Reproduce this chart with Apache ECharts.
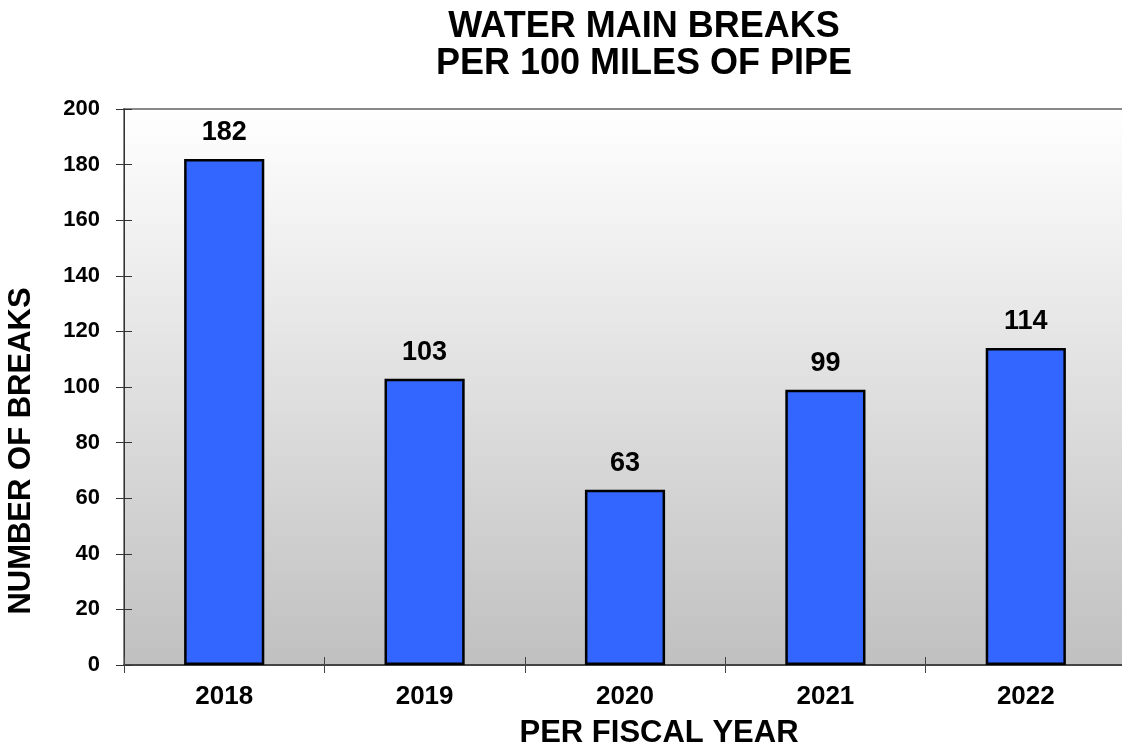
<!DOCTYPE html>
<html>
<head>
<meta charset="utf-8">
<script src="https://cdn.jsdelivr.net/npm/echarts@6/dist/echarts.min.js"></script>
<style>
  html, body { margin: 0; padding: 0; background: #ffffff; }
  #chart { width: 1122px; height: 748px; }
</style>
</head>
<body>
<div id="chart"></div>
<script>
// fiscal years and breaks per 100 miles
var years = ['2018', '2019', '2020', '2021', '2022'];
var breaks = [182, 103, 63, 99, 114];
var yTicks = { min: 0, max: 200, interval: 20 };

var font = 'Arial, "Liberation Sans", sans-serif';

var chart = echarts.init(document.getElementById('chart'));

var option = {
  backgroundColor: '#ffffff',
  animation: false,
  title: {
    text: 'WATER MAIN BREAKS\nPER 100 MILES OF PIPE',
    left: 639,
    top: 4,
    textAlign: 'center',
    textStyle: {
      fontFamily: font,
      fontWeight: 'bold',
      fontSize: 36,
      lineHeight: 37,
      color: '#000'
    }
  },
  grid: {
    left: 124,
    top: 109,
    width: 1002,
    bottom: 83,
    outerBoundsMode: 'none',
    show: true,
    borderColor: '#888888',
    borderWidth: 2,
    backgroundColor: {
      type: 'linear', x: 0, y: 0, x2: 0, y2: 1,
      colorStops: [
        { offset: 0, color: '#ffffff' },
        { offset: 1, color: '#c0c0c0' }
      ]
    }
  },
  xAxis: [{
    type: 'category',
    data: years,
    axisLine: { lineStyle: { color: '#444', width: 2 } },
    axisTick: { show: true, length: 8, lineStyle: { color: '#444', width: 1 } },
    axisLabel: {
      margin: 19,
      fontFamily: font,
      fontWeight: 'bold',
      fontSize: 26,
      color: '#000'
    }
  }, {
    // second copy only to draw the inner half of the crossing ticks
    type: 'category',
    data: years,
    position: 'bottom',
    axisLine: { show: false },
    axisTick: { show: true, inside: true, length: 8, lineStyle: { color: '#444', width: 1 } },
    axisLabel: { show: false }
  }],
  yAxis: [{
    type: 'value',
    min: yTicks.min,
    max: yTicks.max,
    interval: yTicks.interval,
    splitLine: { show: false },
    axisLine: { show: true, lineStyle: { color: '#333', width: 1 } },
    axisTick: { show: true, length: 8, lineStyle: { color: '#333', width: 1 } },
    axisLabel: {
      margin: 24,
      fontFamily: font,
      fontWeight: 'bold',
      fontSize: 22,
      color: '#000'
    }
  }, {
    type: 'value',
    position: 'left',
    min: yTicks.min,
    max: yTicks.max,
    interval: yTicks.interval,
    splitLine: { show: false },
    axisLine: { show: false },
    axisTick: { show: true, inside: true, length: 8, lineStyle: { color: '#333', width: 1 } },
    axisLabel: { show: false }
  }],
  graphic: [{
    type: 'text',
    x: 21,
    y: 451,
    rotation: Math.PI / 2,
    style: {
      text: 'NUMBER OF BREAKS',
      fontFamily: font,
      fontWeight: 'bold',
      fontSize: 31,
      fill: '#000',
      textAlign: 'center',
      textVerticalAlign: 'middle'
    }
  }, {
    type: 'text',
    x: 659,
    y: 733,
    style: {
      text: 'PER FISCAL YEAR',
      fontFamily: font,
      fontWeight: 'bold',
      fontSize: 31,
      fill: '#000',
      textAlign: 'center',
      textVerticalAlign: 'middle'
    }
  }],
  series: [{
    type: 'bar',
    data: breaks,
    barWidth: '40%',
    itemStyle: {
      color: '#3366ff',
      borderColor: '#000',
      borderWidth: 2.5
    },
    label: {
      show: true,
      position: 'top',
      distance: 13,
      fontFamily: font,
      fontWeight: 'bold',
      fontSize: 27,
      color: '#000'
    }
  }]
};

chart.setOption(option);
</script>
</body>
</html>
